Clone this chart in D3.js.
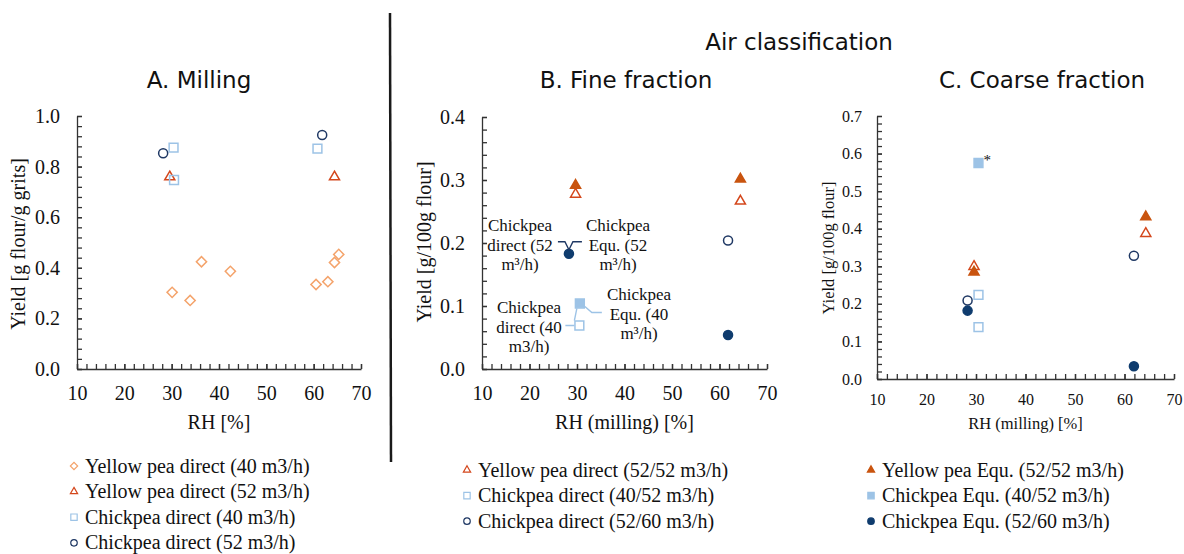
<!DOCTYPE html>
<html lang="en">
<head>
  <meta charset="UTF-8">
  <title>Yield vs RH</title>
  <style>
    * {box-sizing: border-box;}
    html, body { margin: 0; padding: 0; background: #fff; }
    svg { display: block; }
  </style>
</head>
<body>
  <svg id="chart" width="1184" height="554"></svg>

  <script src="https://cdnjs.cloudflare.com/ajax/libs/d3/7.8.5/d3.min.js"></script>
  <script>
    const SERIF = '"Liberation Serif", "Times New Roman", serif'
    const SANS = '"DejaVu Sans", Verdana, sans-serif'

    // x ticks shared by every panel
    const xTicks = [10, 20, 30, 40, 50, 60, 70]

    // A. Milling  [RH %, yield g flour / g grits]
    const millYP40 = [[30.1, 0.303], [33.9, 0.271], [36.3, 0.424], [42.4, 0.386], [60.5, 0.334], [63.0, 0.345], [64.4, 0.421], [65.3, 0.453]]
    const millYP52 = [[29.6, 0.763], [64.4, 0.763]]
    const millCP40 = [[30.4, 0.875], [30.5, 0.747], [60.8, 0.871]]
    const millCP52 = [[28.2, 0.853], [61.8, 0.925]]

    // B. Fine fraction  [RH milling %, yield g/100g flour]
    const fineYPdirect = [[29.7, 0.279], [64.4, 0.268]]
    const fineYPequ = [[29.7, 0.293], [64.4, 0.303]]
    const fineCPdirect40 = [[30.5, 0.069]]
    const fineCPequ40 = [[30.6, 0.104]]
    const fineCPdirect52 = [[61.8, 0.204]]
    const fineCPequ52 = [[28.3, 0.183], [61.8, 0.054]]

    // C. Coarse fraction
    const coarseYPdirect = [[29.6, 0.302], [64.3, 0.390]]
    const coarseYPequ = [[29.6, 0.287], [64.3, 0.434]]
    const coarseCPdirect40 = [[30.5, 0.224], [30.5, 0.138]]
    const coarseCPequ40 = [[30.5, 0.575]]
    const coarseCPdirect52 = [[28.3, 0.209], [61.9, 0.328]]
    const coarseCPequ52 = [[28.3, 0.182], [61.9, 0.034]]

    const legendLeft = ['Yellow pea direct (40 m3/h)', 'Yellow pea direct (52 m3/h)', 'Chickpea direct (40 m3/h)', 'Chickpea direct (52 m3/h)']
    const legendMid = ['Yellow pea direct (52/52 m3/h)', 'Chickpea direct (40/52 m3/h)', 'Chickpea direct (52/60 m3/h)']
    const legendRight = ['Yellow pea Equ. (52/52 m3/h)', 'Chickpea Equ. (40/52 m3/h)', 'Chickpea Equ. (52/60 m3/h)']

    // marker styles
    const ORANGE_LT = '#F4A36B', RED_OR = '#D4471C', ORANGE_DK = '#C9540F'
    const BLUE_LT = '#9DC3E6', NAVY = '#1F3864', NAVY_DK = '#0F3C6E'
    const st = {
      diamond:  {shape: 'diamond', stroke: ORANGE_LT, fill: 'none'},
      triOpen:  {shape: 'triangle', stroke: RED_OR, fill: 'none'},
      triFill:  {shape: 'triangle', stroke: ORANGE_DK, fill: ORANGE_DK},
      sqOpen:   {shape: 'square', stroke: BLUE_LT, fill: 'none'},
      sqFill:   {shape: 'square', stroke: BLUE_LT, fill: BLUE_LT},
      cirOpen:  {shape: 'circle', stroke: NAVY, fill: 'none'},
      cirFill:  {shape: 'circle', stroke: NAVY_DK, fill: NAVY_DK}
    }

    const svg = d3.select('#chart')

    function symbolPath (shape, scale) {
      const s = scale || 1
      if (shape === 'diamond') return d3.symbol(d3.symbolSquare, 52 * s * s)()
      if (shape === 'triangle') return d3.symbol(d3.symbolTriangle, 44 * s * s)()
      if (shape === 'square') return d3.symbol(d3.symbolSquare, 78 * s * s)()
      return d3.symbol(d3.symbolCircle, 64 * s * s)()
    }

    function drawMarks (g, x, y, data, style) {
      g.selectAll(null)
        .data(data)
        .enter().append('path')
        .attr('d', symbolPath(style.shape))
        .attr('transform', d => `translate(${x(d[0])},${y(d[1])})` + (style.shape === 'diamond' ? ' rotate(45)' : '') + (style.shape === 'triangle' ? ' translate(0,1)' : ''))
        .attr('fill', style.fill)
        .attr('stroke', style.stroke)
        .attr('stroke-width', 1.5)
    }

    function serifText (sel, size) {
      return sel.style('font-family', SERIF).style('font-size', size + 'px').attr('fill', '#111')
    }

    function panel (opt) {
      const x = d3.scaleLinear([10, 70], opt.xr)
      const y = d3.scaleLinear([0, opt.ymax], opt.yr)
      const g = svg.append('g')

      // minor ticks
      g.append('g')
        .attr('transform', `translate(0,${opt.yr[0]})`)
        .call(d3.axisBottom(x).tickValues(d3.range(10, 70.01, 2)).tickSize(-5).tickSizeOuter(0).tickFormat(''))
        .call(a => a.select('.domain').remove())
      g.append('g')
        .attr('transform', `translate(${opt.xr[0]},0)`)
        .call(d3.axisLeft(y).tickValues(d3.range(0, opt.ymax + 1e-9, opt.minor)).tickSize(-5).tickSizeOuter(0).tickFormat(''))
        .call(a => a.select('.domain').remove())

      // major axes
      const xa = g.append('g')
        .attr('transform', `translate(0,${opt.yr[0]})`)
        .call(d3.axisBottom(x).tickValues(xTicks).tickSize(-5).tickSizeOuter(0).tickPadding(opt.pad))
      const ya = g.append('g')
        .attr('transform', `translate(${opt.xr[0]},0)`)
        .call(d3.axisLeft(y).tickValues(d3.range(0, opt.ymax + 1e-9, opt.major)).tickSize(-5).tickSizeOuter(0).tickPadding(opt.pad).tickFormat(d3.format('.1f')))
      for (const a of [xa, ya]) {
        a.attr('font-family', null).attr('font-size', null)
        serifText(a.selectAll('text'), opt.fs)
      }
      g.selectAll('.domain, .tick line').attr('stroke', '#333').attr('stroke-width', 1.3)

      serifText(g.append('text'), opt.tfs)
        .attr('x', (opt.xr[0] + opt.xr[1]) / 2).attr('y', opt.xtY)
        .attr('text-anchor', 'middle')
        .text(opt.xTitle)
      serifText(g.append('text'), opt.tfs)
        .attr('transform', `translate(${opt.ytX},${opt.ytCy}) rotate(-90)`)
        .attr('text-anchor', 'middle')
        .text(opt.yTitle)

      svg.append('text')
        .style('font-family', SANS).style('font-size', '23px').attr('fill', '#111')
        .attr('x', opt.titleX).attr('y', 88)
        .attr('text-anchor', 'middle')
        .text(opt.title)

      const marks = g.append('g')
      opt.series.forEach(s => drawMarks(marks, x, y, s[0], s[1]))
      return {g, x, y}
    }

    // A. Milling
    panel({
      xr: [77, 361], yr: [369, 116], ymax: 1.0, major: 0.2, minor: 0.04, pad: 17, fs: 20, tfs: 20,
      xTitle: 'RH [%]', xtY: 429, yTitle: 'Yield [g flour/g grits]', ytX: 25, ytCy: 244,
      title: 'A. Milling', titleX: 199,
      series: [[millYP40, st.diamond], [millYP52, st.triOpen], [millCP40, st.sqOpen], [millCP52, st.cirOpen]]
    })

    // B. Fine fraction
    const B = panel({
      xr: [482, 767], yr: [369, 117], ymax: 0.4, major: 0.1, minor: 0.02, pad: 17, fs: 20, tfs: 20,
      xTitle: 'RH (milling) [%]', xtY: 429, yTitle: 'Yield [g/100g flour]', ytX: 431, ytCy: 242,
      title: 'B. Fine fraction', titleX: 626,
      series: [[fineYPdirect, st.triOpen], [fineYPequ, st.triFill], [fineCPdirect52, st.cirOpen], [fineCPequ52, st.cirFill], [fineCPequ40, st.sqFill], [fineCPdirect40, st.sqOpen]]
    })

    // C. Coarse fraction
    const C = panel({
      xr: [877, 1174], yr: [379, 116], ymax: 0.7, major: 0.1, minor: 0.02, pad: 15, fs: 16, tfs: 16.5,
      xTitle: 'RH (milling) [%]', xtY: 429, yTitle: 'Yield [g/100g flour]', ytX: 834, ytCy: 248,
      title: 'C. Coarse fraction', titleX: 1042,
      series: [[coarseYPdirect, st.triOpen], [coarseYPequ, st.triFill], [coarseCPdirect52, st.cirOpen], [coarseCPequ52, st.cirFill], [coarseCPdirect40, st.sqOpen], [coarseCPequ40, st.sqFill]]
    })

    svg.append('text')
      .style('font-family', SANS).style('font-size', '23px').attr('fill', '#111')
      .attr('x', 799).attr('y', 50).attr('text-anchor', 'middle')
      .text('Air classification')

    // asterisk on the coarse equ. chickpea point
    serifText(svg.append('text'), 15)
      .attr('x', C.x(coarseCPequ40[0][0]) + 5).attr('y', C.y(coarseCPequ40[0][1]) + 2)
      .text('*')

    // annotations in panel B
    function note (cx, cy, lines) {
      const t = serifText(svg.append('text'), 17).attr('text-anchor', 'middle')
      lines.forEach((l, i) => t.append('tspan').attr('x', cx).attr('y', cy + i * 19.5).text(l))
    }
    note(520, 231, ['Chickpea', 'direct (52', 'm³/h)'])
    note(618, 231, ['Chickpea', 'Equ. (52', 'm³/h)'])
    note(529, 313, ['Chickpea', 'direct (40', 'm3/h)'])
    note(639, 300, ['Chickpea', 'Equ. (40', 'm³/h)'])

    const p52 = [B.x(fineCPequ52[0][0]), B.y(fineCPequ52[0][1])]
    svg.append('path')
      .attr('d', `M${p52[0] - 11},${p52[1] - 12} H${p52[0] - 4} L${p52[0]},${p52[1] - 4} L${p52[0] + 4},${p52[1] - 12} H${p52[0] + 13}`)
      .attr('fill', 'none').attr('stroke', NAVY).attr('stroke-width', 1.4)
    const q40 = [B.x(fineCPequ40[0][0]), B.y(fineCPequ40[0][1])]
    const d40 = [B.x(fineCPdirect40[0][0]), B.y(fineCPdirect40[0][1])]
    svg.append('path')
      .attr('d', `M${q40[0] + 5},${q40[1] + 3} L${q40[0] + 12},${q40[1] + 9} H${q40[0] + 22}`
        + ` M${q40[0] - 3},${q40[1] + 5} L${d40[0] - 5},${d40[1] - 5}`
        + ` M${d40[0] - 5},${d40[1]} H${d40[0] - 14}`)
      .attr('fill', 'none').attr('stroke', BLUE_LT).attr('stroke-width', 1.4)

    // divider
    svg.append('line').attr('x1', 390).attr('x2', 391).attr('y1', 13).attr('y2', 462)
      .attr('stroke', '#1a1a1a').attr('stroke-width', 2.5)

    // legends
    function legend (x0, y0, labels, styles) {
      labels.forEach((l, i) => {
        const cy = y0 + i * 25.6
        const s = styles[i]
        svg.append('path')
          .attr('d', symbolPath(s.shape, 0.72))
          .attr('transform', `translate(${x0},${cy})` + (s.shape === 'diamond' ? ' rotate(45)' : ''))
          .attr('fill', s.fill).attr('stroke', s.stroke).attr('stroke-width', 1.2)
        serifText(svg.append('text'), 20)
          .attr('x', x0 + 11).attr('y', cy + 6.5).text(l)
      })
    }
    legend(74, 466, legendLeft, [st.diamond, st.triOpen, st.sqOpen, st.cirOpen])
    legend(467, 470, legendMid, [st.triOpen, st.sqOpen, st.cirOpen])
    legend(871, 470, legendRight, [st.triFill, st.sqFill, st.cirFill])
  </script>
</body>
</html>
